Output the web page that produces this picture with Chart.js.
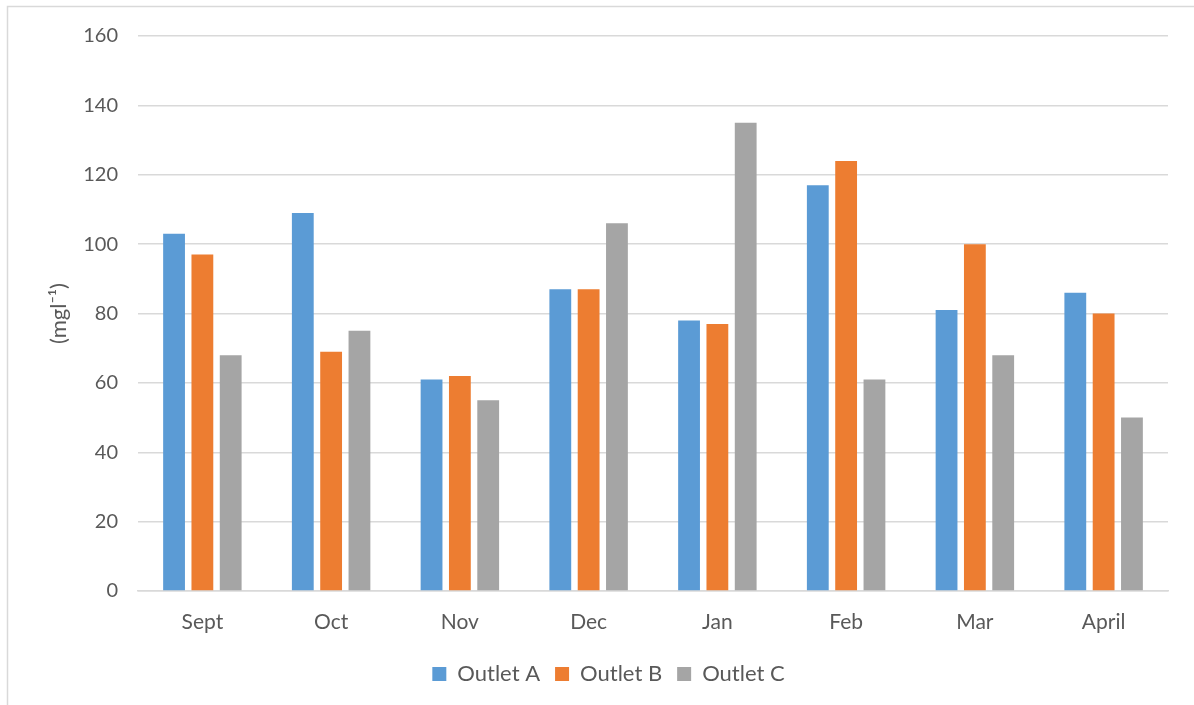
<!DOCTYPE html>
<html>
<head>
<meta charset="utf-8">
<style>
  html, body { margin: 0; padding: 0; background: #ffffff; }
  #wrap { position: relative; width: 1194px; height: 705px; }
  canvas { display: block; }
</style>
<script src="https://cdn.jsdelivr.net/npm/chart.js@4/dist/chart.umd.min.js"></script>
</head>
<body>
<div id="wrap"><canvas id="chart" width="1194" height="705"></canvas></div>
<script>
// Monthly concentrations at three outlets
const months = ['Sept', 'Oct', 'Nov', 'Dec', 'Jan', 'Feb', 'Mar', 'April'];
const outletA = [103, 109, 61, 87, 78, 117, 81, 86];
const outletB = [97, 69, 62, 87, 77, 124, 100, 80];
const outletC = [68, 75, 55, 106, 135, 61, 68, 50];
const yTicks = [0, 20, 40, 60, 80, 100, 120, 140, 160];

const textColor = '#595959';
const gridColor = '#d9d9d9';
const fontFamily = 'Lato, "Open Sans", sans-serif';

// Thin frame along the left and top edges of the chart box
const framePlugin = {
  id: 'frame',
  beforeDraw(chart) {
    const ctx = chart.ctx;
    ctx.save();
    ctx.strokeStyle = gridColor;
    ctx.lineWidth = 1.5;
    ctx.beginPath();
    ctx.moveTo(7.5, 705);
    ctx.lineTo(7.5, 6.5);
    ctx.lineTo(1194, 6.5);
    ctx.stroke();
    ctx.restore();
  }
};

new Chart(document.getElementById('chart'), {
  type: 'bar',
  data: {
    labels: months,
    datasets: [
      { label: 'Outlet A', data: outletA, backgroundColor: '#5B9BD5' },
      { label: 'Outlet B', data: outletB, backgroundColor: '#ED7D31' },
      { label: 'Outlet C', data: outletC, backgroundColor: '#A5A5A5' }
    ]
  },
  options: {
    responsive: false,
    animation: false,
    devicePixelRatio: 1,
    datasets: { bar: { categoryPercentage: 0.66, barPercentage: 0.77 } },
    layout: { padding: { top: 36, right: 26, bottom: 10, left: 49 } },
    plugins: {
      legend: {
        position: 'bottom',
        labels: {
          color: textColor,
          font: { family: fontFamily, size: 22 },
          boxWidth: 14,
          boxHeight: 14,
          padding: 15
        }
      },
      tooltip: { enabled: false }
    },
    scales: {
      x: {
        grid: { display: false, drawTicks: false },
        border: { display: true, color: gridColor, width: 1.5 },
        ticks: { color: textColor, font: { family: fontFamily, size: 21 }, padding: 19 },
        afterFit(scale) { scale.height = 57; }
      },
      y: {
        min: 0,
        max: 160,
        afterBuildTicks(scale) { scale.ticks = yTicks.map(v => ({ value: v })); },
        grid: { color: gridColor, lineWidth: 1.5, drawTicks: false },
        border: { display: false },
        ticks: { color: textColor, font: { family: fontFamily, size: 20 }, padding: 20 },
        title: {
          display: true,
          text: '(mgl\u207B\u00B9)',
          color: textColor,
          font: { family: fontFamily, size: 22 },
          padding: { top: -3, bottom: 0 }
        },
        afterFit(scale) { scale.width = 89; }
      }
    }
  },
  plugins: [framePlugin]
});
</script>
</body>
</html>
